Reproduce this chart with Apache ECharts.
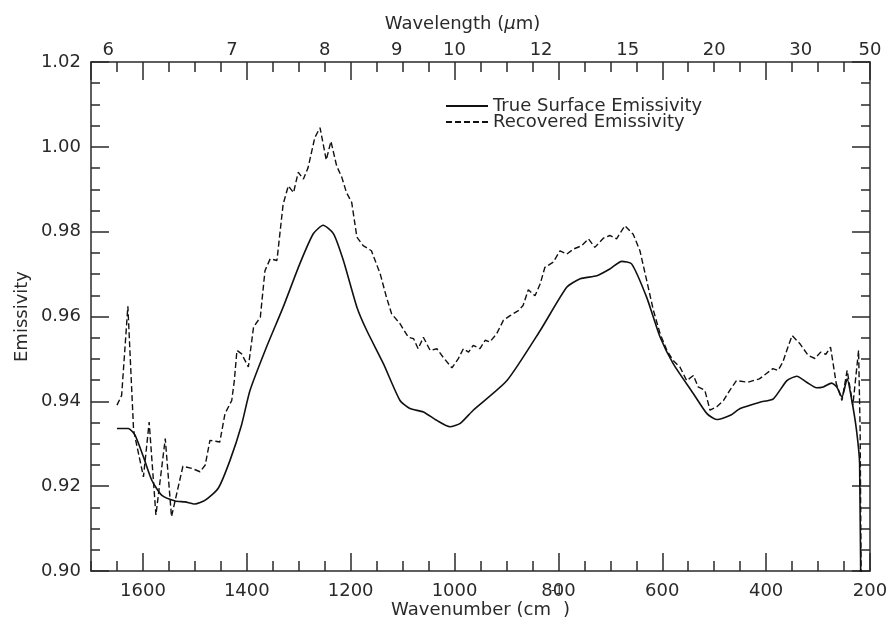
<!DOCTYPE html>
<html>
<head>
<meta charset="utf-8">
<script src="https://cdn.jsdelivr.net/npm/echarts@6/dist/echarts.min.js"></script>
<style>
html,body{margin:0;padding:0;background:#fff;}
#chart{width:890px;height:617px;}
</style>
</head>
<body>
<div id="chart"></div>
<script>
// Bottom axis tick labels (wavenumber, cm^-1)
const wavenumberTicks = [200, 400, 600, 800, 1000, 1200, 1400, 1600];
// Top axis tick labels (wavelength, micrometres)
const wavelengthTicks = [6, 7, 8, 9, 10, 12, 15, 20, 30, 50];
// Y axis ticks
const emissivityTicks = [0.90, 0.92, 0.94, 0.96, 0.98, 1.00, 1.02];

const seriesNames = ['True Surface Emissivity', 'Recovered Emissivity'];

// True surface emissivity
const trueWavenumber = [1650, 1628, 1615, 1599, 1583, 1564, 1538, 1519, 1500, 1480, 1455, 1432, 1410, 1394, 1362, 1330, 1298, 1272, 1253, 1233, 1214, 1188, 1169, 1137, 1105, 1086, 1060, 1034, 1009, 989, 964, 899, 835, 784, 758, 726, 701, 678, 659, 630, 604, 579, 540, 514, 495, 469, 450, 412, 386, 360, 341, 322, 303, 290, 274, 264, 254, 244, 235, 226, 220, 217];
const trueEmissivity = [0.9336, 0.9336, 0.9320, 0.9269, 0.9214, 0.9179, 0.9165, 0.9163, 0.9158, 0.9167, 0.9195, 0.9262, 0.9345, 0.9425, 0.9528, 0.9622, 0.9724, 0.9795, 0.9815, 0.9795, 0.9732, 0.9622, 0.9567, 0.9489, 0.9402, 0.9383, 0.9375, 0.9355, 0.9340, 0.9348, 0.9379, 0.9449, 0.9567, 0.9669, 0.9689, 0.9696, 0.9712, 0.9730, 0.9724, 0.9645, 0.9551, 0.9489, 0.9418, 0.9371, 0.9357, 0.9367, 0.9383, 0.9398, 0.9406, 0.9449, 0.9459, 0.9445, 0.9432, 0.9434, 0.9443, 0.9434, 0.9410, 0.9453, 0.9402, 0.9332, 0.9253, 0.8800];

// Recovered emissivity
const recWavenumber = [1650, 1641, 1629, 1618, 1599, 1588, 1575, 1557, 1545, 1523, 1506, 1490, 1480, 1471, 1460, 1452, 1442, 1429, 1424, 1419, 1410, 1397, 1387, 1374, 1365, 1355, 1342, 1330, 1320, 1310, 1301, 1291, 1282, 1269, 1259, 1247, 1238, 1227, 1217, 1208, 1198, 1188, 1176, 1160, 1143, 1131, 1121, 1105, 1089, 1079, 1070, 1060, 1047, 1034, 1022, 1005, 993, 983, 973, 964, 951, 941, 932, 919, 906, 893, 877, 868, 858, 845, 835, 826, 810, 797, 784, 771, 755, 742, 730, 713, 701, 688, 672, 656, 643, 630, 617, 604, 591, 579, 566, 553, 540, 531, 518, 508, 495, 482, 470, 457, 435, 413, 400, 387, 377, 368, 358, 350, 335, 319, 306, 295, 285, 276, 265, 254, 244, 233, 222, 219, 216];
const recEmissivity = [0.9391, 0.9414, 0.9624, 0.9332, 0.9222, 0.9351, 0.9132, 0.9312, 0.9128, 0.9247, 0.9242, 0.9234, 0.9250, 0.9308, 0.9306, 0.9304, 0.9371, 0.9402, 0.9449, 0.9520, 0.9512, 0.9481, 0.9575, 0.9598, 0.9708, 0.9736, 0.9732, 0.9865, 0.9908, 0.9892, 0.9940, 0.9924, 0.9951, 1.0022, 1.0045, 0.9969, 1.0013, 0.9955, 0.9928, 0.9892, 0.9869, 0.9787, 0.9767, 0.9755, 0.9700, 0.9645, 0.9606, 0.9583, 0.9551, 0.9548, 0.9524, 0.9551, 0.9520, 0.9524, 0.9504, 0.9479, 0.9500, 0.9524, 0.9516, 0.9532, 0.9524, 0.9544, 0.9540, 0.9559, 0.9591, 0.9602, 0.9614, 0.9626, 0.9663, 0.9649, 0.9677, 0.9716, 0.9728, 0.9755, 0.9747, 0.9759, 0.9767, 0.9783, 0.9763, 0.9785, 0.9791, 0.9783, 0.9814, 0.9794, 0.9755, 0.9685, 0.9614, 0.9559, 0.9520, 0.9496, 0.9481, 0.9449, 0.9461, 0.9434, 0.9426, 0.9379, 0.9387, 0.9402, 0.9426, 0.9449, 0.9445, 0.9453, 0.9465, 0.9477, 0.9473, 0.9492, 0.9528, 0.9555, 0.9536, 0.9508, 0.9501, 0.9516, 0.9511, 0.9528, 0.9442, 0.9402, 0.9473, 0.9391, 0.9520, 0.9332, 0.8800];

const FONT = 'DejaVu Sans';
const INK = '#2a2a2a';
const X_MIN = 200, X_MAX = 1700;

const trueData = trueWavenumber.map((w, i) => [w, trueEmissivity[i]]);
const recData = recWavenumber.map((w, i) => [w, recEmissivity[i]]);
const wavelengthPositions = wavelengthTicks.map(l => 10000 / l);

const lineAxis = {lineStyle: {color: INK, width: 1.5}};
const baseX = {
  type: 'value', min: X_MIN, max: X_MAX, inverse: true,
  splitLine: {show: false}, axisLine: lineAxis
};

const chart = echarts.init(document.getElementById('chart'), null, {renderer: 'canvas'});
chart.setOption({
  animation: false,
  backgroundColor: '#fff',
  grid: {left: 91, right: 20, top: 62, bottom: 46, containLabel: false, outerBoundsMode: 'none'},
  legend: {
    orient: 'vertical', left: 440, top: 92,
    itemWidth: 42, itemHeight: 14, itemGap: -2,
    data: seriesNames,
    itemStyle: {opacity: 0, color: 'rgba(0,0,0,0)', borderWidth: 0},
    textStyle: {fontFamily: FONT, fontSize: 18, color: INK}
  },
  xAxis: [
    Object.assign({}, baseX, {
      position: 'bottom', interval: 200,
      axisTick: {inside: true, length: 18, lineStyle: {color: INK, width: 1.5}},
      axisLabel: {
        fontFamily: FONT, fontSize: 18, color: INK, margin: 11, showMaxLabel: false,
        formatter: v => (wavenumberTicks.indexOf(v) >= 0 ? String(v) : '')
      },
      name: '{a|Wavenumber (cm}{sup|-1}{a|)}',
      nameLocation: 'middle', nameGap: 14, nameMoveOverlap: false,
      nameTextStyle: {
        rich: {
          a: {fontFamily: FONT, fontSize: 18, color: INK, lineHeight: 34, verticalAlign: 'bottom'},
          sup: {fontFamily: FONT, fontSize: 12, color: INK, verticalAlign: 'top'}
        }
      }
    }),
    Object.assign({}, baseX, {
      position: 'bottom', interval: 50,
      axisLine: {show: false},
      axisTick: {inside: true, length: 10, lineStyle: {color: INK, width: 1.5}},
      axisLabel: {show: false}
    }),
    Object.assign({}, baseX, {
      position: 'top', interval: 200,
      axisTick: {inside: true, length: 18, lineStyle: {color: INK, width: 1.5}},
      axisLabel: {
        fontFamily: FONT, fontSize: 18, color: INK, margin: 3,
        customValues: wavelengthPositions,
        formatter: v => String(Math.round(10000 / v))
      },
      name: '{a|Wavelength (}{mu|μ}{a|m)}',
      nameLocation: 'middle', nameGap: 29, nameMoveOverlap: false,
      nameTextStyle: {
        padding: [0, 36, 0, 0],
        rich: {
          a: {fontFamily: FONT, fontSize: 18, color: INK},
          mu: {fontFamily: FONT, fontSize: 18, color: INK, fontStyle: 'italic'}
        }
      }
    }),
    Object.assign({}, baseX, {
      position: 'top', interval: 50,
      axisLine: {show: false},
      axisTick: {inside: true, length: 10, lineStyle: {color: INK, width: 1.5}},
      axisLabel: {show: false}
    })
  ],
  yAxis: [
    {
      type: 'value', position: 'left', min: 0.90, max: 1.02, interval: 0.02,
      splitLine: {show: false}, axisLine: lineAxis,
      axisTick: {inside: true, length: 18, lineStyle: {color: INK, width: 1.5}},
      minorTick: {show: true, splitNumber: 4, length: 9, lineStyle: {color: INK, width: 1.5}},
      minorSplitLine: {show: false},
      axisLabel: {fontFamily: FONT, fontSize: 18, color: INK, margin: 10, formatter: v => v.toFixed(2)},
      name: 'Emissivity', nameLocation: 'middle', nameGap: 60, nameMoveOverlap: false,
      nameTextStyle: {fontFamily: FONT, fontSize: 18, color: INK}
    },
    {
      type: 'value', position: 'right', min: 0.90, max: 1.02, interval: 0.02,
      splitLine: {show: false}, axisLine: lineAxis,
      axisTick: {inside: true, length: 18, lineStyle: {color: INK, width: 1.5}},
      minorTick: {show: true, splitNumber: 4, length: 9, lineStyle: {color: INK, width: 1.5}},
      minorSplitLine: {show: false},
      axisLabel: {show: false}
    }
  ],
  series: [
    {
      name: seriesNames[0], type: 'line', xAxisIndex: 0, yAxisIndex: 0,
      data: trueData, symbol: 'none', showSymbol: false, smooth: 0.2, clip: true,
      lineStyle: {color: '#111', width: 1.6, type: 'solid'},
      itemStyle: {color: '#111'}
    },
    {
      name: seriesNames[1], type: 'line', xAxisIndex: 0, yAxisIndex: 0,
      data: recData, symbol: 'none', showSymbol: false, clip: true,
      lineStyle: {color: '#111', width: 1.4, type: [6, 3]},
      itemStyle: {color: '#111'}
    }
  ]
});
</script>
</body>
</html>
